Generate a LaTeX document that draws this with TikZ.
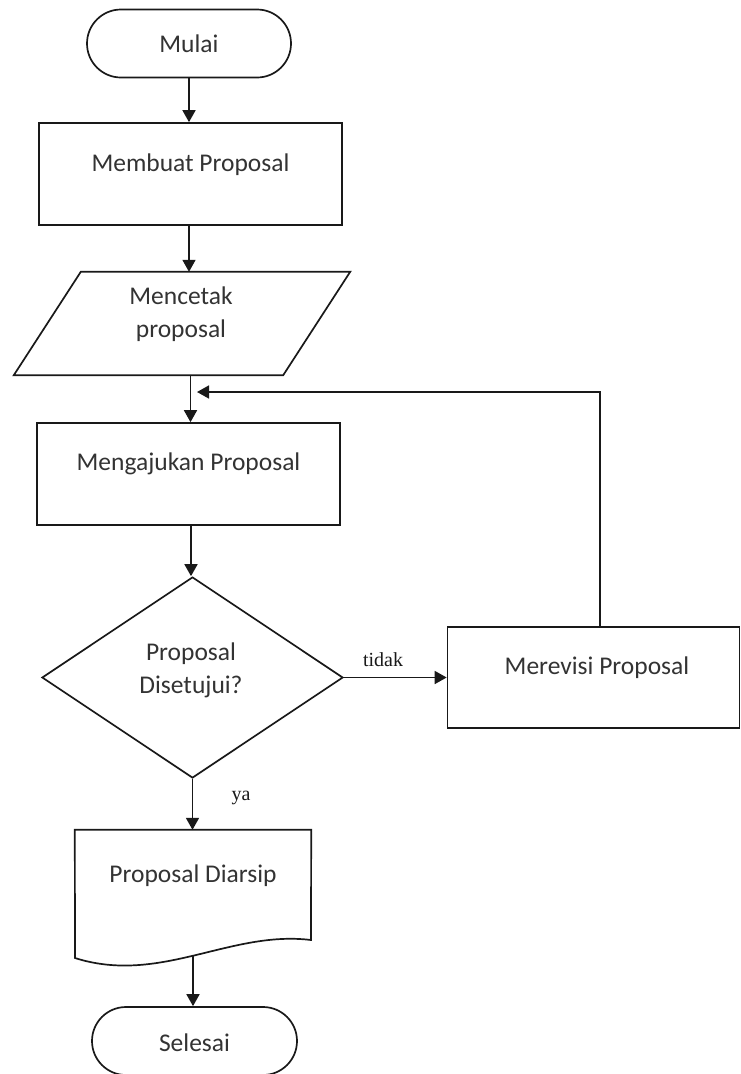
\documentclass[tikz,border=0pt]{standalone}
\usepackage{fontspec}
\setmainfont{Carlito}
\newfontfamily\notefont{Liberation Serif}
\usetikzlibrary{arrows.meta,shapes.geometric}
\begin{document}
\begin{tikzpicture}[x=1pt,y=-1pt,
  line/.style={draw=black!90, line width=1.7pt},
  arr/.style={line, -{Triangle[length=12pt,width=13pt]}},
  term/.style={line, rectangle, rounded corners=34pt, minimum width=204pt, minimum height=68pt, inner sep=0pt},
  proc/.style={line, rectangle, minimum width=303pt, minimum height=102pt, inner sep=0pt},
  txt/.style={font=\fontsize{25.5}{33}\selectfont, text=black!80, align=center, inner sep=0pt},
  lbl/.style={font=\notefont\fontsize{20}{22}\selectfont, text=black!90, inner sep=0pt}]
\useasboundingbox (0,0) rectangle (741,1074);

% Mulai
\node[term] (mulai) at (189,43.5) {};
\node[txt] (tmulai) at (189,44) {Mulai};

% Membuat Proposal
\node[proc] (membuat) at (190.5,174) {};
\node[txt] (tmembuat) at (190.5,165) {Membuat Proposal};

% Mencetak proposal (parallelogram)
\node[rectangle, minimum width=336pt, minimum height=103pt, inner sep=0pt] (cetak) at (182,323.5) {};
\draw[line] ([xshift=67pt]cetak.north west) -- (cetak.north east)
  -- ([xshift=-67pt]cetak.south east) -- (cetak.south west) -- cycle;
\node[txt] (tcetak) at (181,314) {Mencetak\\proposal};

% Mengajukan Proposal
\node[proc] (ajukan) at (188.5,474) {};
\node[txt] (tajukan) at (188.5,464) {Mengajukan Proposal};

% Decision
\node[line, diamond, minimum width=301pt, minimum height=201pt, inner sep=0pt] (setuju) at (192.5,677.5) {};
\node[txt] (tsetuju) at (191,670) {Proposal\\Disetujui?};

% Merevisi Proposal
\node[line, rectangle, minimum width=292pt, minimum height=101pt, inner sep=0pt] (revisi) at (593.5,677.5) {};
\node[txt] (trevisi) at (597,668) {Merevisi Proposal};

% Proposal Diarsip (document)
\node[rectangle, minimum width=236pt, minimum height=128pt, inner sep=0pt] (arsip) at (193,894) {};
\draw[line] (arsip.north west) -- (arsip.north east) -- (311,940)
  .. controls (230,930) and (160,985) .. (75,958) -- cycle;
\coordinate (arsipbot) at (193,955);
\node[txt] (tarsip) at (193,876) {Proposal Diarsip};

% Selesai
\node[term, minimum width=205pt] (selesai) at (194.5,1041) {};
\node[txt] (tselesai) at (194.5,1043) {Selesai};

% connectors
\draw[arr] (mulai.south) -- (mulai.south |- membuat.north);
\coordinate (membuatbot) at (189,225);
\draw[arr] (membuatbot) -- (membuatbot |- cetak.north);
\coordinate (cetakbot) at (190.5,375);
\draw[arr] (cetakbot) -- (cetakbot |- ajukan.north);
\coordinate (ajukanbot) at (191,525);
\draw[arr] (ajukanbot) -- (ajukanbot |- setuju.north);
\draw[arr] (setuju.east) -- (revisi.west);
\node[lbl] (tidak) at (383,660) {tidak};
\coordinate (revtop) at (600,627);
\coordinate (loopin) at (197,392);
\draw[arr] (revtop) |- (loopin);
\draw[arr] (setuju.south) -- (setuju.south |- arsip.north);
\node[lbl] (ya) at (241,798) {ya};
\draw[arr] (arsipbot) -- (arsipbot |- selesai.north);
\end{tikzpicture}
\end{document}
